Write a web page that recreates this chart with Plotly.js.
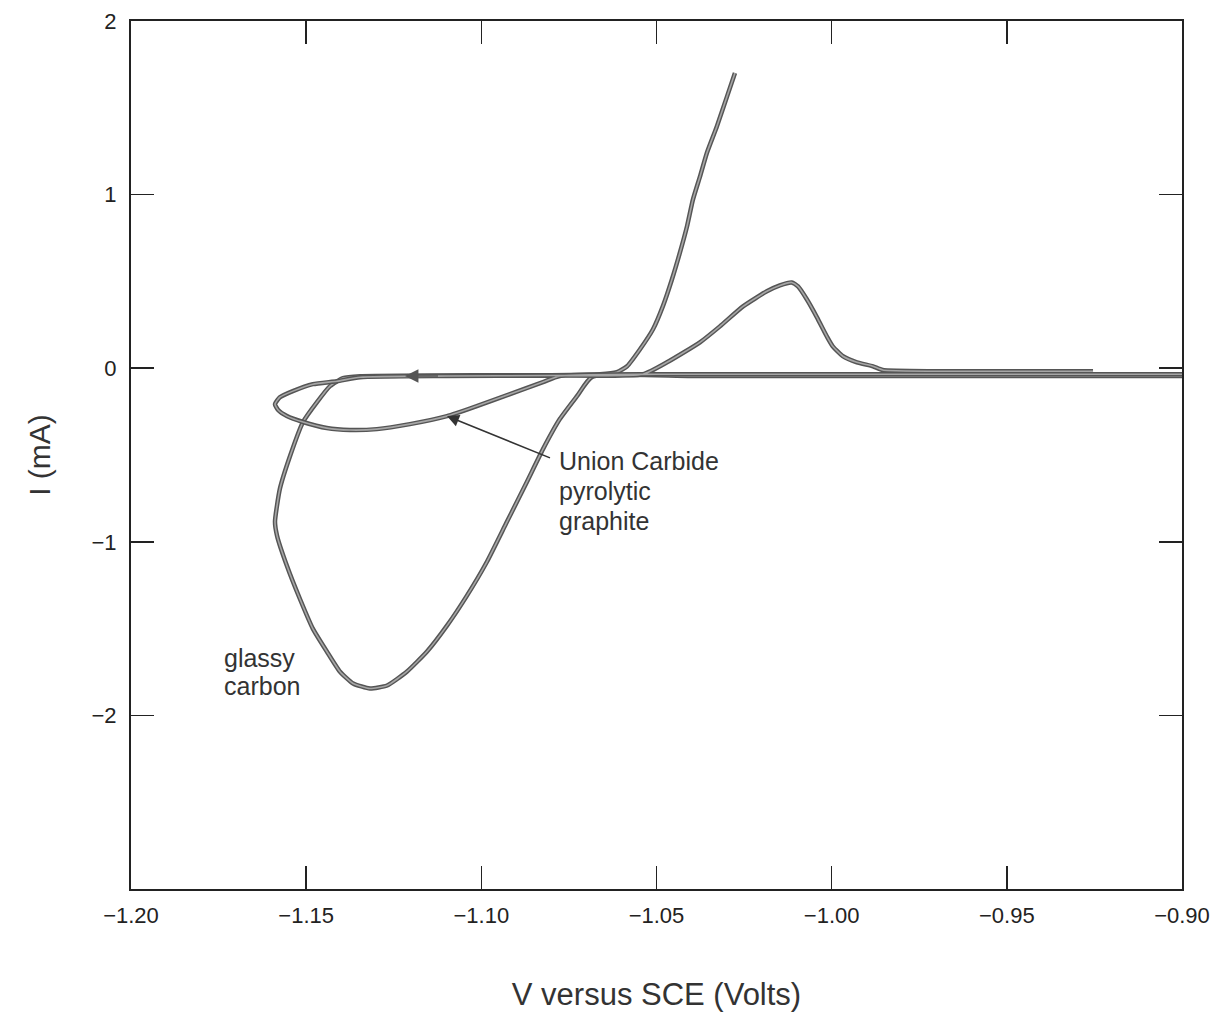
<!DOCTYPE html>
<html>
<head>
<meta charset="utf-8">
<script src="https://cdn.plot.ly/plotly-3.0.1.min.js"></script>
<style>html,body{margin:0;padding:0;background:#fff;}#chart{width:1219px;height:1013px;}</style>
</head>
<body>
<div id="chart"></div>
<script>
// Glassy carbon voltammogram (scan order): V versus SCE (Volts), I (mA)
const gcV = [-0.900, -0.950, -1.000, -1.040, -1.0684, -1.0727, -1.0776, -1.0824, -1.0870, -1.0927,
  -1.0984, -1.1041, -1.1098, -1.1155, -1.1212, -1.1269, -1.1318, -1.1366, -1.1404, -1.1441,
  -1.1481, -1.1518, -1.1555, -1.1583, -1.1589, -1.1575, -1.1546, -1.1509, -1.1469, -1.1432,
  -1.1395, -1.1346, -1.1000, -1.0800, -1.0661, -1.0613, -1.0584, -1.0547, -1.0510, -1.0482,
  -1.0456, -1.0433, -1.0413, -1.0396, -1.0376, -1.0356, -1.0328, -1.0299, -1.0276];
const gcI = [-0.045, -0.045, -0.045, -0.045, -0.050, -0.161, -0.293, -0.466, -0.655, -0.885,
  -1.115, -1.310, -1.483, -1.632, -1.747, -1.828, -1.845, -1.816, -1.747, -1.632,
  -1.500, -1.328, -1.138, -0.966, -0.885, -0.695, -0.506, -0.310, -0.195, -0.103,
  -0.057, -0.046, -0.040, -0.040, -0.035, -0.023, 0.011, 0.109, 0.224, 0.356,
  0.511, 0.667, 0.816, 0.971, 1.103, 1.241, 1.391, 1.563, 1.701];

// Union Carbide pyrolytic graphite voltammogram (scan order)
const pgV = [-0.900, -0.950, -1.000, -1.050, -1.0776, -1.0824, -1.0918, -1.1013, -1.1098, -1.1204,
  -1.1298, -1.1375, -1.1441, -1.1509, -1.1555, -1.1580, -1.1589, -1.1575, -1.1538, -1.1481,
  -1.1412, -1.1346, -1.1100, -1.0800, -1.0539, -1.0470, -1.0376, -1.0319, -1.0253, -1.0185,
  -1.0148, -1.0114, -1.0096, -1.0071, -1.0042, -1.0014, -0.9997, -0.9968, -0.9928, -0.9882,
  -0.9854, -0.9600, -0.9254];
const pgI = [-0.035, -0.035, -0.035, -0.035, -0.045, -0.080, -0.149, -0.218, -0.276, -0.322,
  -0.351, -0.356, -0.345, -0.310, -0.276, -0.241, -0.207, -0.167, -0.132, -0.092,
  -0.075, -0.052, -0.045, -0.042, -0.035, 0.034, 0.149, 0.241, 0.356, 0.443,
  0.477, 0.494, 0.471, 0.397, 0.293, 0.184, 0.126, 0.069, 0.034, 0.011,
  -0.010, -0.018, -0.018];

const xTicks = [-1.20, -1.15, -1.10, -1.05, -1.00, -0.95, -0.90];
const yTicks = [-2, -1, 0, 1, 2];

const FONT = 'Liberation Sans, Arial, Helvetica, sans-serif';
const INK = '#222222';

function curve(v, i) {
  return [
    {x: v, y: i, type: 'scatter', mode: 'lines', line: {color: '#555555', width: 4.5, shape: 'spline', smoothing: 0.5}, hoverinfo: 'skip'},
    {x: v, y: i, type: 'scatter', mode: 'lines', line: {color: '#a6a6a6', width: 1.6, shape: 'spline', smoothing: 0.5}, hoverinfo: 'skip'}
  ];
}

const data = [].concat(curve(gcV, gcI), curve(pgV, pgI));

const labelFont = {family: FONT, size: 25, color: '#333333'};
function label(text, x, y) {
  return {x: x, y: y, xref: 'x', yref: 'y', text: text, showarrow: false,
    xanchor: 'left', yanchor: 'middle', align: 'left', font: labelFont};
}

const layout = {
  width: 1219, height: 1013,
  margin: {l: 131, r: 37, t: 21, b: 124, pad: 0},
  paper_bgcolor: '#ffffff', plot_bgcolor: '#ffffff',
  showlegend: false,
  font: {family: FONT, color: INK},
  xaxis: {
    range: [-1.2, -0.9], tickvals: xTicks, tickformat: '.2f',
    ticks: 'inside', ticklen: 23, tickwidth: 1.5, tickcolor: INK,
    showline: true, linewidth: 2, linecolor: INK, mirror: 'ticks',
    showgrid: false, zeroline: false, ticklabelstandoff: 6,
    tickfont: {family: FONT, size: 22, color: INK},
    title: {text: 'V versus SCE (Volts)', font: {family: FONT, size: 31, color: '#333333'}, standoff: 56}
  },
  yaxis: {
    range: [-3, 2], tickvals: yTicks,
    ticks: 'inside', ticklen: 23, tickwidth: 1.5, tickcolor: INK,
    showline: true, linewidth: 2, linecolor: INK, mirror: 'ticks',
    showgrid: false, zeroline: false, ticklabelstandoff: 8,
    tickfont: {family: FONT, size: 22, color: INK},
    title: {text: 'I (mA)', font: {family: FONT, size: 30, color: '#333333'}, standoff: 32}
  },
  annotations: [
    {x: -1.1218, y: -0.045, xref: 'x', yref: 'y', text: ' ', showarrow: true,
      ax: 36, ay: 0, arrowhead: 2, arrowsize: 1.8, arrowwidth: 1.5, arrowcolor: '#555555'},
    {x: -1.1098, y: -0.276, xref: 'x', yref: 'y', text: ' ', showarrow: true,
      ax: 106, ay: 43, arrowhead: 2, arrowsize: 1.6, arrowwidth: 1.5, arrowcolor: '#333333'},
    label('Union Carbide', -1.0784, -0.534),
    label('pyrolytic', -1.0784, -0.707),
    label('graphite', -1.0784, -0.879),
    label('glassy', -1.174, -1.672),
    label('carbon', -1.174, -1.833)
  ]
};

Plotly.newPlot('chart', data, layout, {displayModeBar: false, staticPlot: true});
</script>
</body>
</html>
